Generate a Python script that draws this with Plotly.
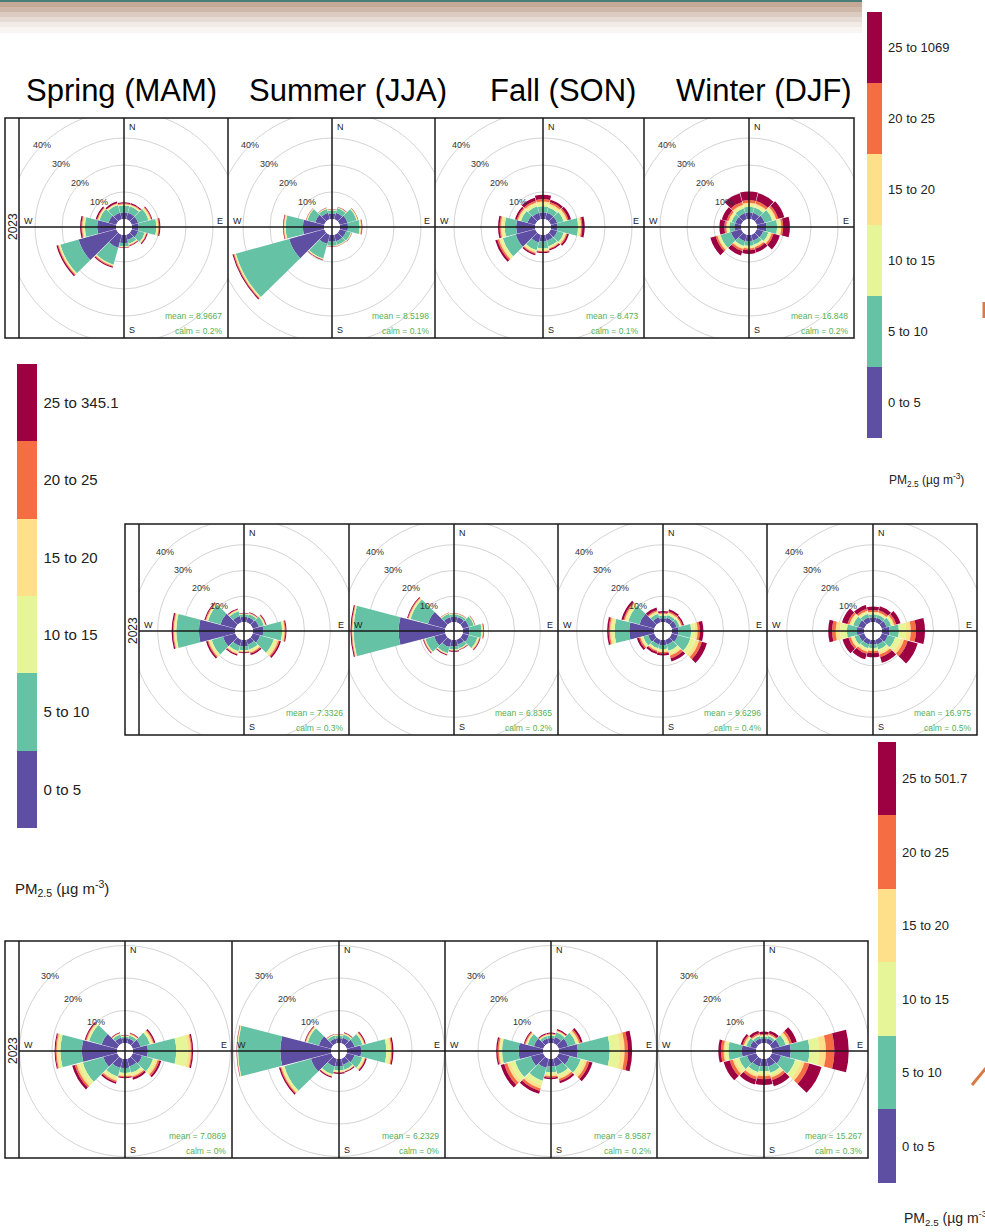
import plotly.graph_objects as go

W, H = 985, 1232
FONT = "Liberation Sans, Arial, sans-serif"

# ---------------- data ----------------
DIRECTIONS = [0, 30, 60, 90, 120, 150, 180, 210, 240, 270, 300, 330]
SEASONS = ["Spring (MAM)", "Summer (JJA)", "Fall (SON)", "Winter (DJF)"]
YEAR = "2023"
BIN_LABELS = ["0 to 5", "5 to 10", "10 to 15", "15 to 20", "20 to 25"]
TOP_BIN_MAX = ["1069", "345.1", "501.7"]
BIN_COLORS = ["#5E4FA2", "#66C2A5", "#E6F598", "#FEE08B", "#F46D43", "#9E0142"]

# each panel: 6 PM2.5 classes (0-5, 5-10, 10-15, 15-20, 20-25, 25+), % of hours per direction
r1_spring = [
    [2.5, 2.5, 2.5, 2.5, 2.5, 2.0, 3.0, 5.0, 14.5, 7.0, 3.0, 2.5],
    [2.5, 2.5, 4.0, 6.5, 2.5, 1.5, 1.2, 6.5, 7.0, 4.5, 3.5, 3.0],
    [0.3, 0.4, 0.5, 0.5, 0.4, 0.3, 0.2, 0.3, 0.4, 0.6, 0.4, 0.4],
    [0.2, 0.2, 0.3, 0.3, 0.2, 0.2, 0.1, 0.2, 0.3, 0.4, 0.2, 0.2],
    [0.3, 0.2, 0.3, 0.3, 0.2, 0.2, 0.1, 0.3, 0.3, 0.3, 0.3, 0.2],
    [0.4, 0.5, 0.3, 0.4, 0.4, 0.3, 0.2, 0.4, 0.5, 0.5, 0.5, 0.5],
]
r1_summer = [
    [2.0, 2.5, 3.0, 3.0, 2.5, 2.5, 2.5, 3.6, 13.5, 7.8, 3.5, 2.5],
    [1.2, 1.8, 3.5, 4.3, 1.8, 1.5, 1.5, 5.5, 20.5, 6.4, 3.0, 1.5],
    [0.2, 0.2, 0.3, 0.4, 0.2, 0.2, 0.1, 0.3, 0.4, 0.4, 0.2, 0.2],
    [0.1, 0.1, 0.1, 0.2, 0.1, 0.1, 0.1, 0.1, 0.2, 0.2, 0.1, 0.1],
    [0.1, 0.1, 0.1, 0.2, 0.1, 0.1, 0.1, 0.1, 0.3, 0.2, 0.1, 0.1],
    [0.1, 0.1, 0.1, 0.2, 0.1, 0.1, 0.1, 0.2, 0.4, 0.2, 0.1, 0.1],
]
r1_fall = [
    [2.5, 2.5, 2.5, 2.5, 2.5, 2.3, 2.5, 3.0, 7.5, 7.0, 3.0, 2.5],
    [2.2, 2.0, 2.5, 7.5, 2.5, 2.2, 2.5, 3.0, 5.0, 4.2, 2.5, 2.5],
    [1.1, 0.9, 0.8, 0.7, 0.6, 0.5, 0.6, 0.6, 0.9, 0.9, 0.7, 0.9],
    [0.7, 0.6, 0.5, 0.5, 0.4, 0.3, 0.4, 0.4, 0.6, 0.6, 0.5, 0.6],
    [0.9, 0.6, 0.5, 0.4, 0.4, 0.3, 0.3, 0.4, 0.6, 0.4, 0.4, 0.6],
    [1.6, 0.9, 1.0, 0.9, 0.6, 0.5, 0.4, 0.5, 0.8, 0.6, 0.7, 1.2],
]
r1_winter = [
    [2.5, 2.5, 3.0, 3.5, 2.5, 2.3, 2.3, 2.5, 4.0, 2.5, 2.3, 2.4],
    [2.0, 2.0, 3.0, 4.0, 2.0, 1.5, 1.7, 1.8, 4.0, 1.8, 1.5, 1.8],
    [0.9, 0.9, 0.9, 0.9, 0.8, 0.6, 0.6, 0.7, 0.7, 0.7, 0.7, 0.8],
    [0.6, 0.6, 0.6, 0.6, 0.5, 0.4, 0.4, 0.5, 0.5, 0.5, 0.5, 0.6],
    [1.0, 1.0, 0.8, 0.7, 0.7, 0.6, 0.6, 0.8, 0.7, 0.7, 0.7, 1.0],
    [3.2, 3.0, 2.3, 2.5, 2.4, 1.4, 1.4, 1.7, 2.0, 1.8, 1.8, 3.3],
]
r2_spring = [
    [2.0, 2.0, 2.5, 4.0, 3.0, 2.0, 2.5, 2.5, 5.0, 14.0, 6.0, 2.5],
    [1.0, 1.3, 2.0, 7.3, 5.5, 2.0, 1.5, 2.2, 4.5, 8.8, 5.0, 2.0],
    [0.2, 0.2, 0.4, 0.6, 1.1, 0.7, 0.4, 0.6, 0.8, 0.6, 0.5, 0.4],
    [0.1, 0.2, 0.2, 0.4, 0.7, 0.5, 0.2, 0.4, 0.5, 0.4, 0.3, 0.2],
    [0.1, 0.2, 0.2, 0.3, 0.5, 0.4, 0.2, 0.3, 0.4, 0.3, 0.3, 0.2],
    [0.2, 0.2, 0.3, 0.4, 0.6, 0.6, 0.3, 0.5, 0.6, 0.5, 0.4, 0.3],
]
r2_summer = [
    [2.0, 2.0, 2.5, 2.5, 2.5, 2.0, 2.5, 3.0, 4.5, 18.0, 7.0, 2.0],
    [1.0, 1.0, 2.0, 4.7, 3.5, 1.5, 1.2, 2.5, 3.5, 17.5, 7.0, 1.5],
    [0.2, 0.2, 0.3, 0.4, 0.4, 0.2, 0.2, 0.3, 0.3, 0.4, 0.5, 0.2],
    [0.1, 0.1, 0.1, 0.2, 0.3, 0.2, 0.2, 0.2, 0.2, 0.2, 0.3, 0.1],
    [0.1, 0.1, 0.1, 0.2, 0.2, 0.1, 0.1, 0.1, 0.2, 0.2, 0.3, 0.1],
    [0.1, 0.1, 0.1, 0.2, 0.3, 0.2, 0.4, 0.3, 0.3, 0.4, 0.3, 0.1],
]
r2_fall = [
    [1.5, 1.8, 2.0, 2.5, 2.5, 2.0, 2.0, 2.0, 2.5, 9.6, 6.0, 2.0],
    [1.0, 1.2, 1.2, 5.0, 5.0, 2.5, 1.5, 1.5, 2.0, 5.7, 4.5, 1.5],
    [0.5, 0.6, 0.5, 1.5, 2.1, 1.2, 0.7, 0.6, 0.7, 1.1, 0.9, 0.6],
    [0.3, 0.4, 0.3, 1.0, 1.4, 0.8, 0.5, 0.4, 0.5, 0.7, 0.6, 0.4],
    [0.4, 0.5, 0.4, 0.8, 1.2, 1.0, 0.5, 0.5, 0.5, 0.5, 0.5, 0.5],
    [0.6, 0.8, 0.6, 1.4, 2.0, 1.3, 0.8, 0.8, 0.8, 0.6, 0.8, 1.0],
]
r2_winter = [
    [1.8, 1.8, 2.0, 3.0, 2.5, 2.0, 1.8, 2.0, 2.2, 2.8, 2.5, 2.0],
    [1.2, 1.3, 1.8, 3.6, 3.0, 2.0, 1.3, 1.5, 1.8, 3.9, 2.0, 1.5],
    [0.6, 0.6, 0.8, 2.8, 2.1, 1.2, 0.7, 0.8, 0.9, 2.6, 0.9, 0.7],
    [0.4, 0.4, 0.5, 1.8, 1.4, 0.8, 0.5, 0.6, 0.6, 1.7, 0.6, 0.5],
    [0.7, 0.8, 0.8, 2.0, 1.5, 1.0, 0.8, 0.8, 0.9, 1.4, 0.8, 0.8],
    [1.3, 1.6, 1.7, 3.5, 4.0, 2.3, 1.6, 2.2, 2.4, 1.5, 2.2, 1.5],
]
r3_spring = [
    [1.5, 1.5, 2.5, 4.6, 3.0, 2.5, 2.8, 3.0, 4.5, 10.8, 5.0, 1.8],
    [0.5, 1.0, 3.0, 8.7, 3.5, 2.0, 1.5, 2.7, 6.5, 6.6, 4.0, 1.0],
    [0.2, 0.3, 0.6, 3.5, 0.9, 0.7, 0.6, 0.8, 1.2, 0.7, 0.5, 0.2],
    [0.1, 0.2, 0.4, 1.0, 0.6, 0.5, 0.4, 0.5, 0.8, 0.5, 0.3, 0.2],
    [0.1, 0.2, 0.3, 0.3, 0.5, 0.4, 0.3, 0.5, 0.6, 0.3, 0.3, 0.1],
    [0.1, 0.2, 0.4, 0.4, 0.6, 0.6, 0.3, 0.5, 0.8, 0.3, 0.3, 0.2],
]
r3_summer = [
    [1.5, 1.8, 2.5, 4.4, 2.5, 2.0, 2.3, 2.5, 6.5, 15.6, 4.0, 1.5],
    [0.8, 1.0, 2.5, 7.7, 2.5, 1.5, 1.2, 2.5, 8.5, 13.0, 3.5, 1.0],
    [0.2, 0.2, 0.4, 1.0, 0.5, 0.3, 0.4, 0.4, 0.6, 0.2, 0.4, 0.2],
    [0.1, 0.2, 0.2, 0.5, 0.3, 0.2, 0.2, 0.2, 0.4, 0.1, 0.2, 0.1],
    [0.1, 0.1, 0.2, 0.3, 0.2, 0.1, 0.1, 0.1, 0.3, 0.1, 0.2, 0.1],
    [0.1, 0.2, 0.3, 0.4, 0.4, 0.3, 0.4, 0.4, 0.4, 0.1, 0.2, 0.1],
]
r3_fall = [
    [1.5, 2.0, 3.0, 5.8, 3.5, 2.5, 2.3, 3.0, 4.0, 7.5, 3.0, 1.5],
    [0.8, 1.5, 2.5, 9.8, 3.5, 2.5, 1.8, 4.0, 5.0, 5.1, 2.0, 0.8],
    [0.2, 0.3, 0.6, 3.0, 1.2, 0.9, 0.7, 1.5, 1.5, 0.6, 0.4, 0.2],
    [0.2, 0.2, 0.4, 1.6, 0.8, 0.6, 0.5, 1.0, 1.0, 0.4, 0.2, 0.2],
    [0.2, 0.2, 0.5, 1.0, 0.8, 0.6, 0.4, 0.8, 1.0, 0.4, 0.3, 0.2],
    [0.3, 0.4, 0.6, 1.3, 1.0, 0.7, 0.5, 0.9, 1.1, 0.4, 0.3, 0.3],
]
r3_winter = [
    [1.3, 1.5, 2.5, 5.8, 3.0, 2.5, 2.3, 2.5, 3.0, 4.4, 2.0, 1.5],
    [0.7, 0.8, 2.0, 5.7, 4.5, 2.0, 1.5, 1.8, 2.5, 4.1, 1.2, 0.8],
    [0.3, 0.3, 0.7, 3.0, 1.8, 0.9, 0.9, 0.9, 1.2, 0.9, 0.5, 0.3],
    [0.2, 0.2, 0.5, 2.1, 1.2, 0.6, 0.6, 0.6, 0.8, 0.6, 0.3, 0.2],
    [0.3, 0.4, 0.7, 2.6, 1.5, 0.8, 0.9, 0.8, 1.0, 0.8, 0.4, 0.4],
    [0.7, 0.8, 1.6, 4.4, 3.9, 2.0, 1.8, 1.6, 1.9, 0.8, 0.6, 0.8],
]

MEANS_ROW1 = ["8.9667", "8.5198", "8.473", "16.848"]
CALMS_ROW1 = ["0.2%", "0.1%", "0.1%", "0.2%"]
MEANS_ROW2 = ["7.3326", "6.8365", "9.6296", "16.975"]
CALMS_ROW2 = ["0.3%", "0.2%", "0.4%", "0.5%"]
MEANS_ROW3 = ["7.0869", "6.2329", "8.9587", "15.267"]
CALMS_ROW3 = ["0%", "0%", "0.2%", "0.3%"]
RING_PCTS_ROW12 = [10, 20, 30, 40]
RING_PCTS_ROW3 = [10, 20, 30]

PANELS = [[r1_spring, r1_summer, r1_fall, r1_winter],
          [r2_spring, r2_summer, r2_fall, r2_winter],
          [r3_spring, r3_summer, r3_fall, r3_winter]]
MEANS = [MEANS_ROW1, MEANS_ROW2, MEANS_ROW3]
CALMS = [CALMS_ROW1, CALMS_ROW2, CALMS_ROW3]

# ---------------- layout geometry (pixels) ----------------
ROWS = [
    dict(top=118, bottom=338, left=5, edges=[19, 228, 435, 644, 854],
         centers=[124, 332, 543, 749], cy=227, hole=8, outer=116, vmax=40,
         rings=RING_PCTS_ROW12),
    dict(top=524, bottom=735, left=125, edges=[139, 349, 558, 767, 977],
         centers=[244, 454, 663, 873], cy=631, hole=9, outer=112, vmax=40,
         rings=RING_PCTS_ROW12),
    dict(top=941, bottom=1158, left=5, edges=[19, 232, 445, 657, 868],
         centers=[125, 339, 551, 764], cy=1051, hole=8, outer=105.5, vmax=30,
         rings=RING_PCTS_ROW3),
]


def px(x):
    return x / W


def py(y):
    return 1 - y / H


fig = go.Figure()
lay = {}
shapes = []
ann = []

LINE_COL = "#1a1a1a"
RING_COL = "#d4d4d4"
STAT_COL = "#55b155"

k = 0
for ri, row in enumerate(ROWS):
    top, bot, cy = row["top"], row["bottom"], row["cy"]
    h, R, vmax = row["hole"], row["outer"], row["vmax"]
    # row frame + strip
    shapes.append(dict(type="rect", xref="paper", yref="paper", x0=px(row["left"]), x1=px(row["edges"][-1]),
                       y0=py(bot), y1=py(top), line=dict(color=LINE_COL, width=1.5), layer="above"))
    for e in row["edges"][:-1]:
        shapes.append(dict(type="line", xref="paper", yref="paper", x0=px(e), x1=px(e), y0=py(bot), y1=py(top),
                           line=dict(color=LINE_COL, width=1.5), layer="above"))
    ann.append(dict(text=YEAR, x=px((row["left"] + row["edges"][0]) / 2 + 1), y=py(cy), textangle=-90,
                    font=dict(family=FONT, size=12, color="#222")))
    for pi in range(4):
        k += 1
        sfx = "" if k == 1 else str(k)
        cx = row["centers"][pi]
        xl, xr = row["edges"][pi], row["edges"][pi + 1]
        data = PANELS[ri][pi]
        pname = "polar" + sfx
        labels = BIN_LABELS + ["25 to " + TOP_BIN_MAX[ri]]
        for b in range(len(BIN_COLORS)):
            fig.add_trace(go.Barpolar(r=data[b], theta=DIRECTIONS, width=29, subplot=pname,
                                      marker=dict(color=BIN_COLORS[b], line=dict(width=0)),
                                      name=labels[b], showlegend=False, hoverinfo="skip"))
        lay[pname] = dict(
            domain=dict(x=[max(0, px(cx - R)), min(1, px(cx + R))], y=[py(cy + R), py(cy - R)]),
            hole=h / R, bgcolor="rgba(0,0,0,0)", barmode="stack",
            radialaxis=dict(range=[0, vmax], visible=False),
            angularaxis=dict(rotation=90, direction="clockwise", visible=False),
        )
        # cartesian frame (pixel units, centred on the rose) used to clip the rings
        xref, yref = "x" + sfx, "y" + sfx
        lay["xaxis" + sfx] = dict(domain=[px(xl), px(xr)], range=[xl - cx, xr - cx], visible=False,
                                  anchor=yref, fixedrange=True)
        lay["yaxis" + sfx] = dict(domain=[py(bot), py(top)], range=[cy - bot, cy - top], visible=False,
                                  anchor=xref, fixedrange=True)
        fig.add_trace(go.Scatter(x=[], y=[], xaxis=xref, yaxis=yref, showlegend=False, hoverinfo="skip"))
        scale = (R - h) / vmax
        for v in row["rings"]:
            rp = h + v * scale
            shapes.append(dict(type="circle", xref=xref, yref=yref, x0=-rp, x1=rp, y0=-rp, y1=rp,
                               line=dict(color=RING_COL, width=1), layer="below"))
            ann.append(dict(text=f"{v}%", x=px(cx - rp * 0.7071), y=py(cy - rp * 0.7071),
                            font=dict(family=FONT, size=9, color="#333")))
        # cross lines
        shapes.append(dict(type="line", xref=xref, yref=yref, x0=xl - cx, x1=xr - cx, y0=0, y1=0,
                           line=dict(color=LINE_COL, width=1.5), layer="above"))
        shapes.append(dict(type="line", xref=xref, yref=yref, x0=0, x1=0, y0=cy - bot, y1=cy - top,
                           line=dict(color=LINE_COL, width=1.5), layer="above"))
        lab_font = dict(family=FONT, size=9, color="#222")
        ann.append(dict(text="N", x=px(cx + 3), y=py(top + 9), xanchor="left", font=lab_font))
        ann.append(dict(text="S", x=px(cx + 3), y=py(bot - 8), xanchor="left", font=lab_font))
        ann.append(dict(text="W", x=px(xl + 3), y=py(cy - 6), xanchor="left", font=lab_font))
        ann.append(dict(text="E", x=px(xr - 3), y=py(cy - 6), xanchor="right", font=lab_font))
        stat_font = dict(family=FONT, size=8.5, color=STAT_COL)
        ann.append(dict(text="mean = " + MEANS[ri][pi], x=px(xr - 4), y=py(bot - 22), xanchor="right",
                        font=stat_font))
        ann.append(dict(text="calm = " + CALMS[ri][pi], x=px(xr - 4), y=py(bot - 7), xanchor="right",
                        font=stat_font))

# season titles
for s, xc in zip(SEASONS, [121, 348, 563, 764]):
    ann.append(dict(text=s, x=px(xc), y=py(91), font=dict(family=FONT, size=31, color="#000")))

# colour keys (one per row)
n = len(BIN_COLORS)
cscale = []
for i, c in enumerate(BIN_COLORS):
    cscale += [[i / n, c], [(i + 1) / n, c]]
KEYS = [
    dict(x=867, top=12, bottom=438, thick=15, fs=13, tx=887, ty=480, tfs=12),
    dict(x=17, top=364, bottom=828, thick=20, fs=15, tx=13, ty=888, tfs=15),
    dict(x=878, top=742, bottom=1183, thick=18, fs=13, tx=902, ty=1218, tfs=14),
]
for ri, kd in enumerate(KEYS):
    labels = BIN_LABELS + ["25 to " + TOP_BIN_MAX[ri]]
    fig.add_trace(go.Scatter(
        x=[None] * n, y=[None] * n, mode="markers", showlegend=False, hoverinfo="skip",
        marker=dict(color=list(range(n)), cmin=0, cmax=n, colorscale=cscale, showscale=True,
                    colorbar=dict(x=px(kd["x"]), xanchor="left", xpad=0, y=py(kd["top"]), yanchor="top",
                                  ypad=0, len=kd["bottom"] - kd["top"], lenmode="pixels",
                                  thickness=kd["thick"], thicknessmode="pixels", outlinewidth=0,
                                  tickvals=[i + 0.5 for i in range(n)], ticktext=labels,
                                  ticks="outside", ticklen=4, tickcolor="rgba(0,0,0,0)",
                                  tickfont=dict(family=FONT, size=kd["fs"], color="#222"))),
    ))
    ann.append(dict(text="PM<sub>2.5</sub> (µg m<sup>-3</sup>)", x=px(kd["tx"]), y=py(kd["ty"]),
                    xanchor="left", font=dict(family=FONT, size=kd["tfs"], color="#222")))

for a in ann:
    a.setdefault("xref", "paper")
    a.setdefault("yref", "paper")
    a.setdefault("showarrow", False)
    a.setdefault("xanchor", "center")
    a.setdefault("yanchor", "middle")

# slide decoration: top rule with soft brown shadow, small orange marks at the right edge
shapes.append(dict(type="rect", xref="paper", yref="paper", x0=0, x1=px(862), y0=py(2), y1=1,
                   fillcolor="#4b7d78", line=dict(width=0), layer="below"))
for y0, y1, a in [(2, 7, 0.9), (7, 12, 0.75), (12, 17, 0.55), (17, 22, 0.37), (22, 27, 0.22), (27, 33, 0.1)]:
    shapes.append(dict(type="rect", xref="paper", yref="paper", x0=0, x1=px(862), y0=py(y1), y1=py(y0),
                       fillcolor=f"rgba(190,160,140,{a})", line=dict(width=0), layer="below"))
shapes.append(dict(type="line", xref="paper", yref="paper", x0=px(984), x1=px(984), y0=py(318), y1=py(302),
                   line=dict(color="#d97a45", width=3)))
shapes.append(dict(type="line", xref="paper", yref="paper", x0=px(972), x1=px(986), y0=py(1085), y1=py(1068),
                   line=dict(color="#d97a45", width=3)))

fig.update_layout(
    width=W, height=H, margin=dict(l=0, r=0, t=0, b=0, autoexpand=False),
    paper_bgcolor="white", plot_bgcolor="rgba(0,0,0,0)",
    showlegend=False, shapes=shapes, annotations=ann,
    font=dict(family=FONT),
    **lay,
)
fig.write_html("out.html", config={"displayModeBar": False},
               post_script="document.body.style.margin='0px';")
